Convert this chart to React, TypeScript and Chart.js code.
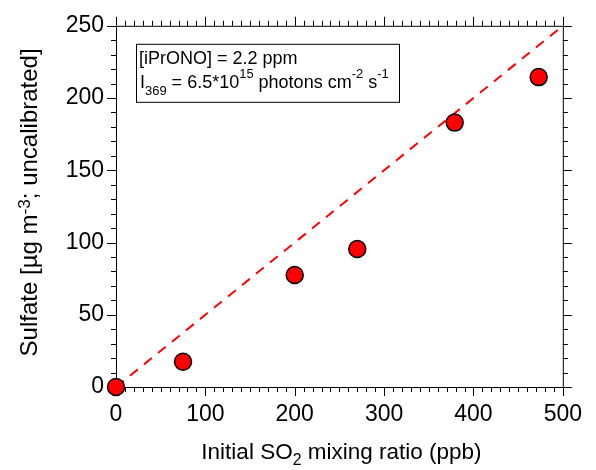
import React, { useEffect, useRef } from 'react';
import { Chart, registerables } from 'chart.js';

Chart.register(...registerables);

// ---- data ----
const so2Ppb = [0, 75, 200, 270, 379, 473];
const sulfate = [0, 17.5, 77.5, 95.5, 183, 214.5];
const fitX = [0, 500];
const fitY = [0, 250];
const xMajorTicks = [0, 100, 200, 300, 400, 500];
const yMajorTicks = [0, 50, 100, 150, 200, 250];

const FONT = "'Liberation Sans', Arial, Helvetica, sans-serif";

type Seg = { t: string; k?: 'sup' | 'sub' };

const xTitle: Seg[] = [{ t: 'Initial SO' }, { t: '2', k: 'sub' }, { t: ' mixing ratio (ppb)' }];
const yTitle: Seg[] = [{ t: 'Sulfate [µg m' }, { t: '-3', k: 'sup' }, { t: '; uncalibrated]' }];
const legendLine1: Seg[] = [{ t: '[iPrONO] = 2.2 ppm' }];
const legendLine2: Seg[] = [
  { t: 'I' },
  { t: '369', k: 'sub' },
  { t: ' = 6.5*10' },
  { t: '15', k: 'sup' },
  { t: ' photons cm' },
  { t: '-2', k: 'sup' },
  { t: ' s' },
  { t: '-1', k: 'sup' },
];

type RichOpts = { size: number; scale: number; up: number; down: number };

function richWidth(ctx: CanvasRenderingContext2D, segs: Seg[], o: RichOpts) {
  let w = 0;
  for (const s of segs) {
    ctx.font = `${s.k ? o.size * o.scale : o.size}px ${FONT}`;
    w += ctx.measureText(s.t).width;
  }
  return w;
}

function drawRich(
  ctx: CanvasRenderingContext2D,
  segs: Seg[],
  x: number,
  y: number,
  o: RichOpts,
  align: 'left' | 'center'
) {
  const w = richWidth(ctx, segs, o);
  let cx = align === 'center' ? x - w / 2 : x;
  ctx.textAlign = 'left';
  ctx.textBaseline = 'alphabetic';
  for (const s of segs) {
    ctx.font = `${s.k ? o.size * o.scale : o.size}px ${FONT}`;
    const dy = s.k === 'sup' ? -o.size * o.up : s.k === 'sub' ? o.size * o.down : 0;
    ctx.fillText(s.t, cx, y + dy);
    cx += ctx.measureText(s.t).width;
  }
}

const framePlugin = {
  id: 'frameTicks',
  beforeDatasetsDraw(chart: any) {
    const { ctx, chartArea } = chart;
    const { left, right, top, bottom } = chartArea;
    const xs = chart.scales.x;
    const ys = chart.scales.y;
    ctx.save();
    ctx.strokeStyle = '#000';
    ctx.lineWidth = 1;
    ctx.beginPath();
    ctx.rect(left + 0.5, top + 0.5, right - left, bottom - top);
    ctx.stroke();
    ctx.beginPath();
    for (const t of xs.ticks) {
      const px = Math.round(xs.getPixelForValue(t.value)) + 0.5;
      const len = xMajorTicks.includes(t.value) ? 9 : 5;
      ctx.moveTo(px, bottom);
      ctx.lineTo(px, bottom + len);
      ctx.moveTo(px, top);
      ctx.lineTo(px, top - len);
    }
    for (const t of ys.ticks) {
      const py = Math.round(ys.getPixelForValue(t.value)) + 0.5;
      const len = yMajorTicks.includes(t.value) ? 9 : 5;
      ctx.moveTo(left, py);
      ctx.lineTo(left - len, py);
      ctx.moveTo(right, py);
      ctx.lineTo(right + len, py);
    }
    ctx.stroke();
    ctx.restore();
  },
  afterDraw(chart: any) {
    const { ctx, chartArea } = chart;
    const { left, right, top, bottom } = chartArea;
    ctx.save();
    ctx.fillStyle = '#000';
    // x title
    drawRich(ctx, xTitle, (left + right) / 2 + 2, 459, { size: 22.5, scale: 0.7, up: 0.4, down: 0.28 }, 'center');
    // y title
    ctx.save();
    ctx.translate(37, (top + bottom) / 2 - 4);
    ctx.rotate(-Math.PI / 2);
    drawRich(ctx, yTitle, 0, 0, { size: 24, scale: 0.72, up: 0.3, down: 0.28 }, 'center');
    ctx.restore();
    // legend box
    const bx = left + 20;
    const by = top + 18;
    const bw = 263;
    const bh = 58;
    ctx.fillStyle = '#fff';
    ctx.fillRect(bx, by, bw, bh);
    ctx.strokeStyle = '#000';
    ctx.lineWidth = 1;
    ctx.strokeRect(bx + 0.5, by + 0.5, bw, bh);
    ctx.fillStyle = '#000';
    const lo = { size: 18, scale: 0.72, up: 0.55, down: 0.42 };
    drawRich(ctx, legendLine1, bx + 3, by + 20, lo, 'left');
    drawRich(ctx, legendLine2, bx + 4, by + 44, lo, 'left');
    ctx.restore();
  },
};

export default function App() {
  const ref = useRef<HTMLCanvasElement | null>(null);
  useEffect(() => {
    document.body.style.margin = '0';
    const canvas = ref.current;
    if (!canvas) return;
    const points = so2Ppb.map((x, i) => ({ x, y: sulfate[i] }));
    const fit = fitX.map((x, i) => ({ x, y: fitY[i] }));
    const chart = new Chart(canvas, {
      type: 'scatter',
      data: {
        datasets: [
          {
            type: 'scatter',
            data: points,
            backgroundColor: '#ff0000',
            borderColor: '#000',
            borderWidth: 1.5,
            pointRadius: 8.5,
            pointHoverRadius: 8.5,
            clip: false,
            order: 0,
          } as any,
          {
            type: 'line',
            data: fit,
            borderColor: '#ff0000',
            borderWidth: 2,
            borderDash: [10, 8],
            pointRadius: 0,
            fill: false,
            order: 1,
          } as any,
        ],
      },
      options: {
        animation: false,
        responsive: false,
        devicePixelRatio: 1,
        events: [],
        layout: { padding: { top: 22, right: 22, left: 0, bottom: 0 } },
        plugins: {
          legend: { display: false },
          tooltip: { enabled: false },
          title: { display: false },
        },
        scales: {
          x: {
            type: 'linear',
            min: 0,
            max: 500,
            grid: { display: false, drawTicks: false, tickLength: 0 },
            border: { display: false },
            ticks: {
              stepSize: 10,
              autoSkip: false,
              maxRotation: 0,
              minRotation: 0,
              padding: 14,
              color: '#000',
              font: { family: FONT, size: 23 },
              callback: (v: any) => (xMajorTicks.includes(Number(v)) ? String(v) : ''),
            },
            afterFit: (s: any) => {
              s.height = 83;
            },
          },
          y: {
            type: 'linear',
            min: 0,
            max: 250,
            grid: { display: false, drawTicks: false, tickLength: 0 },
            border: { display: false },
            ticks: {
              stepSize: 10,
              autoSkip: false,
              padding: 12,
              color: '#000',
              font: { family: FONT, size: 23 },
              callback: (v: any) => (yMajorTicks.includes(Number(v)) ? String(v) : ''),
            },
            afterFit: (s: any) => {
              s.width = 116;
            },
          },
        },
      },
      plugins: [framePlugin],
    });
    return () => chart.destroy();
  }, []);
  return (
    <div style={{ width: 596, height: 470, background: '#fff' }}>
      <canvas ref={ref} width={596} height={470} style={{ display: 'block' }} />
    </div>
  );
}
